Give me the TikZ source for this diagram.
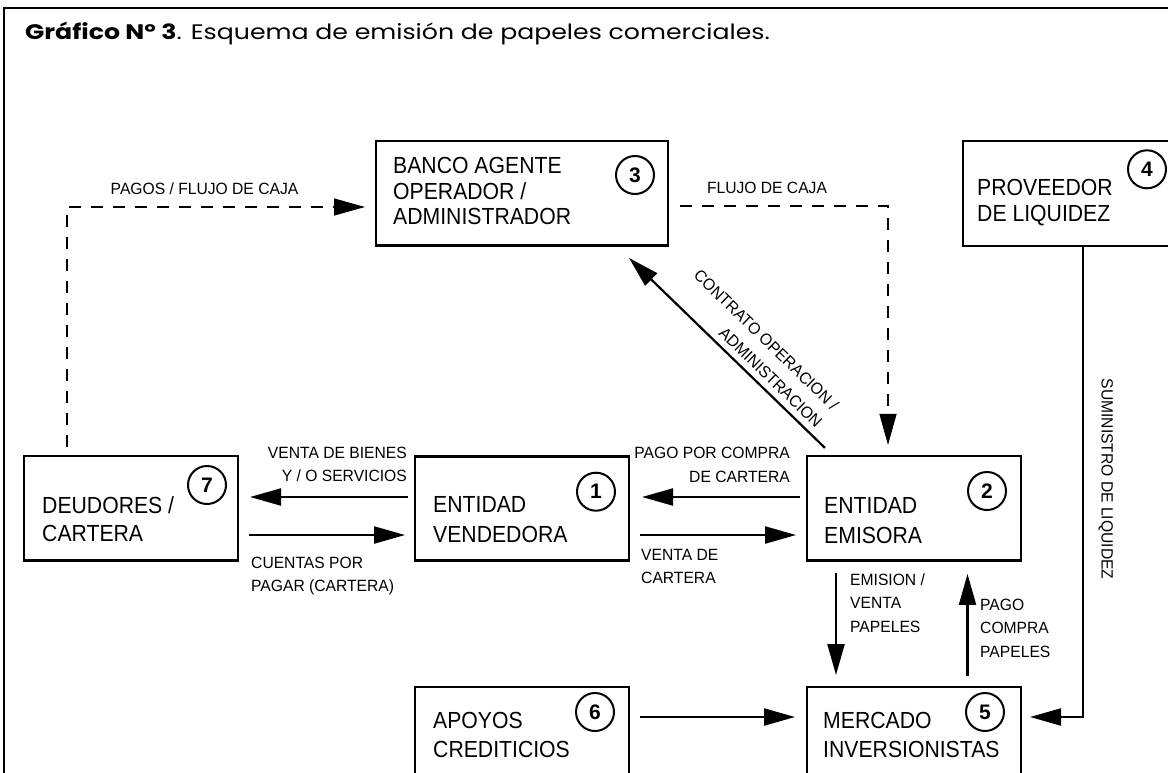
\documentclass[tikz,border=0pt]{standalone}
\usepackage{fontspec}
\newfontfamily\lblfont[FakeStretch=0.96]{Liberation Sans}
\newfontfamily\boxfontfam[FakeStretch=0.91]{Liberation Sans}
\newfontfamily\numfont{Liberation Sans}
\newfontfamily\titlefont[FakeStretch=1.2]{Poppins}
\usetikzlibrary{arrows.meta,calc}
\tikzset{
  frameline/.style={line width=2pt},
  box/.style={draw, line width=2.8pt, rectangle, inner sep=0pt, outer sep=0pt, minimum width=214pt, minimum height=104.5pt},
  boxtext/.style={anchor=base west, inner sep=0pt, align=left, font=\boxfontfam\fontsize{23.3}{#1}\selectfont},
  boxtext/.default=29,
  num/.style={draw, circle, line width=2pt, minimum size=38pt, inner sep=0pt, font=\numfont\bfseries\fontsize{21}{21}\selectfont},
  lbl/.style={inner sep=0pt, font=\lblfont\fontsize{16.3}{23.5}\selectfont},
  arr/.style={line width=2.2pt, -{Triangle[length=31pt,width=17pt]}},
  darr/.style={line width=1.3pt, dash pattern=on 12pt off 10pt, -{Triangle[length=31pt,width=17pt]}},
}
\begin{document}
\begin{tikzpicture}[x=1pt,y=-1pt]
\useasboundingbox (0,0) rectangle (1168,772);
\clip (0,0) rectangle (1168,772);
\fill[white] (0,0) rectangle (1168,772);
\draw[frameline] (4,7.5) rectangle (1190,800);
\node[anchor=base west, inner sep=0pt, font=\titlefont\fontsize{21}{21}\selectfont] (title) at (25,39) {\textbf{Gráfico Nº 3}. Esquema de emisión de papeles comerciales.};

% boxes
\node[box, minimum width=292pt] (b3) at (522,193.2) {};
\node[box, minimum width=217pt, minimum height=105pt] (b4) at (1071.5,193.5) {};
\node[box] (b7) at (131,508.2) {};
\node[box] (b1) at (522,508.5) {};
\node[box] (b2) at (914,508.2) {};
\node[box] (b6) at (522,739.25) {};
\node[box] (b5) at (914,739.25) {};

% box texts (position = baseline of last line)
\node[boxtext=25.7] (t3) at (393,224.7) {BANCO AGENTE\\OPERADOR /\\ADMINISTRADOR};
\node[boxtext=26.7] (t4) at (977,221.7) {PROVEEDOR\\DE LIQUIDEZ};
\node[boxtext=28.4] (t7) at (42,541.7) {DEUDORES /\\CARTERA};
\node[boxtext=30.7] (t1) at (433,542.7) {ENTIDAD\\VENDEDORA};
\node[boxtext=30] (t2) at (824,543) {ENTIDAD\\EMISORA};
\node[boxtext=29] (t6) at (433,757) {APOYOS\\CREDITICIOS};
\node[boxtext=29] (t5) at (823,757) {MERCADO\\INVERSIONISTAS};

% numbers
\node[num] (c3) at (635,175) {3};
\node[num] (c4) at (1147,169.3) {4};
\node[num] (c7) at (207,485) {7};
\node[num] (c1) at (596,491.7) {1};
\node[num] (c2) at (987,491) {2};
\node[num] (c6) at (595,712) {6};
\node[num] (c5) at (985,712) {5};

% connectors
\draw[arr] ($(b1.west)+(-7,-11.5)$) -- ($(b7.east)+(12,-11.2)$);
\draw[arr] ($(b7.east)+(11,26.8)$) -- ($(b1.west)+(-10,26.5)$);
\draw[arr] ($(b2.west)+(-7,-11.2)$) -- ($(b1.east)+(13,-11.5)$);
\draw[arr] ($(b1.east)+(11,26.5)$) -- ($(b2.west)+(-11,26.8)$);
\draw[arr] ($(b2.south)+(-78,12.5)$) -- ($(b5.north)+(-78,-12)$);
\draw[arr] ($(b5.north)+(53.5,-11)$) -- ($(b2.south)+(53.5,13.5)$);
\draw[arr] ($(b6.east)+(11,-22.25)$) -- ($(b5.west)+(-12,-22.25)$);
\draw[arr] ($(b4.south)+(11.5,0)$) |- ($(b5.east)+(9,-22.25)$);
\draw[darr] ($(b7.north)+(-64,-9)$) |- ($(b3.west)+(-11,13.8)$);
\draw[darr] ($(b3.east)+(12,12.8)$) -| ($(b2.north)+(-26,-11)$);
\draw[arr] ($(b2.north west)+(18,-8)$) -- ($(b3.south east)+(-39,12.5)$);

% labels (position = baseline of last line)
\node[lbl, anchor=base] (l1) at (204.5,194) {PAGOS / FLUJO DE CAJA};
\node[lbl, anchor=base] (l2) at (767,193) {FLUJO DE CAJA};
\node[lbl, anchor=base east, align=right] (l3) at (407,481.7) {VENTA DE BIENES\\Y / O SERVICIOS};
\node[lbl, anchor=base west, align=left] (l4) at (251,591.5) {CUENTAS POR\\PAGAR (CARTERA)};
\node[lbl, anchor=base east, align=right] (l5) at (790,482) {PAGO POR COMPRA\\DE CARTERA};
\node[lbl, anchor=base west, align=left] (l6) at (641,583.5) {VENTA DE\\CARTERA};
\node[lbl, anchor=base west, align=left] (l7) at (850,632) {EMISION /\\VENTA\\PAPELES};
\node[lbl, anchor=base west, align=left] (l8) at (980,657) {PAGO\\COMPRA\\PAPELES};
\node[lbl, rotate=-90, anchor=base] (l9) at (1101.7,479) {SUMINISTRO DE LIQUIDEZ};
\node[lbl, rotate=-44.1, anchor=mid east] (l10) at (833.3,409.9) {CONTRATO OPERACION /};
\node[lbl, rotate=-44.1, anchor=mid east] (l11) at (817,427) {ADMINISTRACION};
\end{tikzpicture}
\end{document}
